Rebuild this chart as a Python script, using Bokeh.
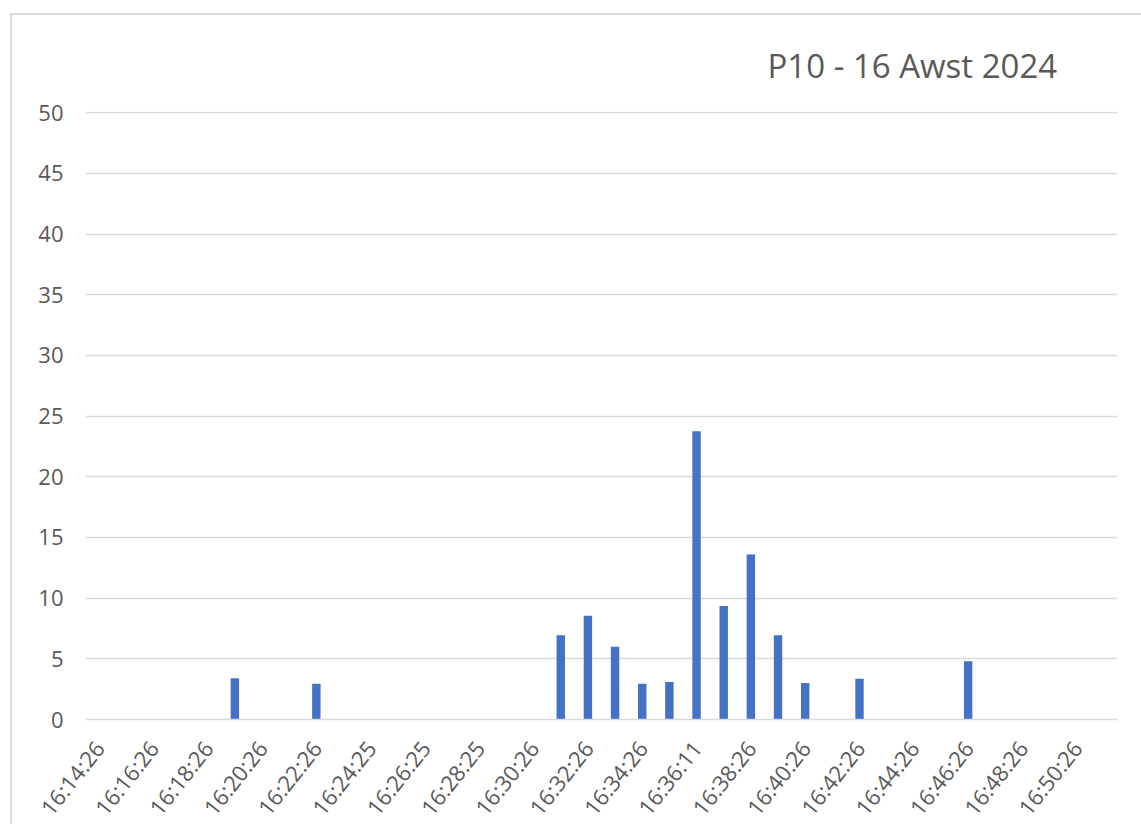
from bokeh.plotting import figure
from bokeh.models import Range1d, FixedTicker, CustomJSTickFormatter
from bokeh.embed import file_html
from bokeh.resources import INLINE

times = ["16:14:26", "16:15:26", "16:16:26", "16:17:26", "16:18:26", "16:19:26",
         "16:20:26", "16:21:26", "16:22:26", "16:23:26", "16:24:25", "16:25:25",
         "16:26:25", "16:27:25", "16:28:25", "16:29:26", "16:30:26", "16:31:26",
         "16:32:26", "16:33:26", "16:34:26", "16:35:26", "16:36:11", "16:37:26",
         "16:38:26", "16:39:26", "16:40:26", "16:41:26", "16:42:26", "16:43:26",
         "16:44:26", "16:45:26", "16:46:26", "16:47:26", "16:48:26", "16:49:26",
         "16:50:26", "16:51:26"]
values = [0, 0, 0, 0, 0, 3.4, 0, 0, 2.95, 0, 0, 0,
          0, 0, 0, 0, 0, 6.95, 8.55, 6.0, 2.95, 3.1, 23.75, 9.35,
          13.6, 6.95, 3.0, 0, 3.35, 0, 0, 0, 4.8, 0, 0, 0, 0, 0]
y_ticks = list(range(0, 51, 5))
title_text = "P10 - 16 Awst 2024"

FONT = "Open Sans"
GRAY = "#595959"
BORDER = "#d9d9d9"

n = len(times)
xpos = [i + 0.5 for i in range(n)]

p = figure(x_range=Range1d(0, n), y_range=Range1d(0, 50.1),
           frame_width=1032, frame_height=608,
           output_backend="svg", toolbar_location=None,
           min_border_left=85, min_border_right=24, min_border_top=111,
           min_border_bottom=105)
p.outline_line_color = None
p.border_fill_color = None
p.background_fill_color = None
p.styles = {
    "background": (f"linear-gradient({BORDER}, {BORDER}) 10px 13px / 2px 100% no-repeat, "
                   f"linear-gradient({BORDER}, {BORDER}) 10px 13px / 100% 2px no-repeat, "
                   "white"),
}

p.title.text = title_text
p.title.text_font = FONT
p.title.text_font_size = "33px"
p.title.text_font_style = "normal"
p.title.text_color = GRAY
p.title.align = "left"
p.title.offset = 682
p.title.standoff = 47

p.vbar(x=xpos, top=values, width=0.31, fill_color="#4472C4", line_color=None)

p.yaxis.ticker = FixedTicker(ticks=y_ticks)
p.yaxis.axis_line_color = None
p.yaxis.major_tick_line_color = None
p.yaxis.minor_tick_line_color = None
p.yaxis.major_label_standoff = 16
p.yaxis.major_label_text_font = FONT
p.yaxis.major_label_text_font_size = "22px"
p.yaxis.major_label_text_color = GRAY

p.xaxis.ticker = FixedTicker(ticks=[xpos[i] for i in range(0, n, 2)])
p.xaxis.formatter = CustomJSTickFormatter(args=dict(labels=times),
                                          code="return labels[Math.floor(tick)];")
p.xaxis.axis_line_color = BORDER
p.xaxis.axis_line_width = 1.5
p.xaxis.major_tick_line_color = None
p.xaxis.minor_tick_line_color = None
p.xaxis.major_label_orientation = 0.9
p.xaxis.major_label_standoff = 18
p.xaxis.major_label_text_font = FONT
p.xaxis.major_label_text_font_size = "22px"
p.xaxis.major_label_text_color = GRAY

p.xgrid.grid_line_color = None
p.ygrid.grid_line_color = BORDER
p.ygrid.grid_line_width = 1.5

open("out.html", "w").write(file_html(p, INLINE))
